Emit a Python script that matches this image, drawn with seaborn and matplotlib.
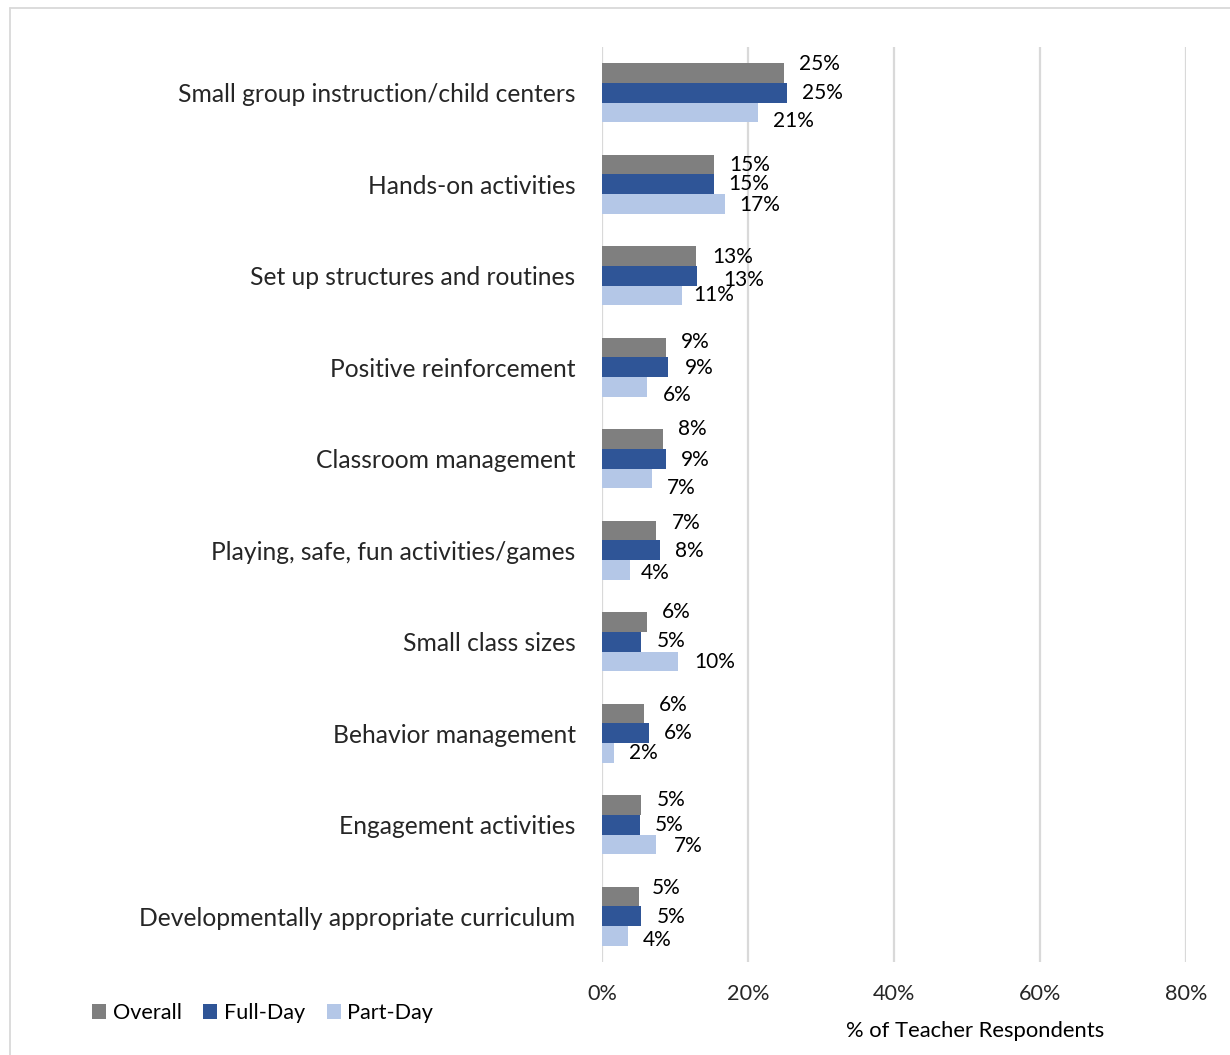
import matplotlib
matplotlib.use("Agg")
import matplotlib.pyplot as plt
import seaborn as sns
import pandas as pd
from matplotlib.lines import Line2D
from matplotlib.patches import Patch

# ---------------- data ----------------
categories = [
    "Small group instruction/child centers",
    "Hands-on activities",
    "Set up structures and routines",
    "Positive reinforcement",
    "Classroom management",
    "Playing, safe, fun activities/games",
    "Small class sizes",
    "Behavior management",
    "Engagement activities",
    "Developmentally appropriate curriculum",
]
series = ["Overall", "Full-Day", "Part-Day"]
overall = [24.9, 15.4, 12.9, 8.7, 8.4, 7.4, 6.2, 5.8, 5.4, 5.1]
full_day = [25.4, 15.3, 13.0, 9.1, 8.7, 8.0, 5.4, 6.4, 5.2, 5.4]
part_day = [21.4, 16.8, 11.0, 6.1, 6.8, 3.9, 10.4, 1.6, 7.4, 3.6]
x_ticks = [0, 20, 40, 60, 80]
x_label = "% of Teacher Respondents"

# ---------------- style ----------------
colors = {"Overall": "#7F7F7F", "Full-Day": "#2F5597", "Part-Day": "#B4C7E7"}
# label offsets in pixels (dx right, dy down), per category x series
label_dx = [[15, 15, 15], [15, 15, 15], [16, 26, 11], [15, 16, 16], [15, 15, 15],
            [16, 15, 10], [15, 15, 16], [15, 15, 15], [15, 15, 18], [13, 15, 15]]
label_dy = [[-9, 0, 9], [0, 0, 1], [1, 4, 0], [-6, 1, 8], [-10, 1, 10],
            [-8, 1, 3], [-10, -1, 1], [-9, 0, 0], [-5, 0, 2], [-9, 1, 4]]

FONT = ["Lato", "DejaVu Sans"]
FS = 15
FS_CAT = 17.7
FS_TICK = 15.6

sns.set_theme(style="white")
plt.rcParams["font.family"] = FONT
plt.rcParams["text.color"] = "#000000"

values = {"Overall": overall, "Full-Day": full_day, "Part-Day": part_day}
rows = []
for s in series:
    for c, v in zip(categories, values[s]):
        rows.append({"category": c, "series": s, "value": v})
df = pd.DataFrame(rows)

W, H = 1230, 1055
fig = plt.figure(figsize=(W / 100, H / 100), dpi=100)
ax = fig.add_axes([602 / W, 1 - 962 / H, (1186 - 602) / W, (962 - 47) / H])

sns.barplot(data=df, y="category", x="value", hue="series", hue_order=series,
            order=categories, palette=colors, width=0.64, orient="h",
            saturation=1, linewidth=0, ax=ax, legend=False)

ax.set_xlim(0, 80)
ax.set_ylim(len(categories) - 0.5, -0.5)
ax.set_xticks(x_ticks)
ax.set_xticklabels([f"{t}%" for t in x_ticks], fontsize=FS_TICK)
ax.tick_params(axis="y", labelsize=FS_CAT, length=0, pad=19)
ax.tick_params(axis="x", length=0, pad=16)
ax.set_xlabel("")
ax.set_ylabel("")
for sp in ax.spines.values():
    sp.set_visible(False)
ax.xaxis.grid(True, color="#D9D9D9", linewidth=1.6)
ax.yaxis.grid(False)
ax.set_axisbelow(True)

# data labels
for k, cont in enumerate(ax.containers):
    lab = cont.get_label()
    si = series.index(lab) if lab in series else k
    vals = values[series[si]]
    for j, bar in enumerate(cont.patches):
        yc = bar.get_y() + bar.get_height() / 2
        ax.annotate(f"{vals[j]:.0f}%", xy=(bar.get_width(), yc),
                    xytext=(label_dx[j][si], -label_dy[j][si]),
                    textcoords="offset pixels", ha="left", va="center",
                    fontsize=FS, color="#000000")

# legend
handles = [Patch(facecolor=colors[s], edgecolor="none", label=s) for s in series]
fig.legend(handles=handles, loc="center left",
           bbox_to_anchor=(92 / W, 1 - 1013 / H), ncol=3, frameon=False,
           fontsize=FS_TICK, handlelength=0.65, handleheight=0.65,
           handletextpad=0.3, columnspacing=1.0, borderaxespad=0, borderpad=0)

fig.text(975 / W, 1 - 1031 / H, x_label, ha="center", va="center", fontsize=15.8)

# outer border
fig.add_artist(Line2D([10 / W, 10 / W], [0, 1 - 8 / H], color="#D9D9D9", lw=1.3,
                      transform=fig.transFigure))
fig.add_artist(Line2D([10 / W, 1], [1 - 8 / H, 1 - 8 / H], color="#D9D9D9", lw=1.3,
                      transform=fig.transFigure))

fig.savefig("out.png", dpi=100, facecolor="white")
